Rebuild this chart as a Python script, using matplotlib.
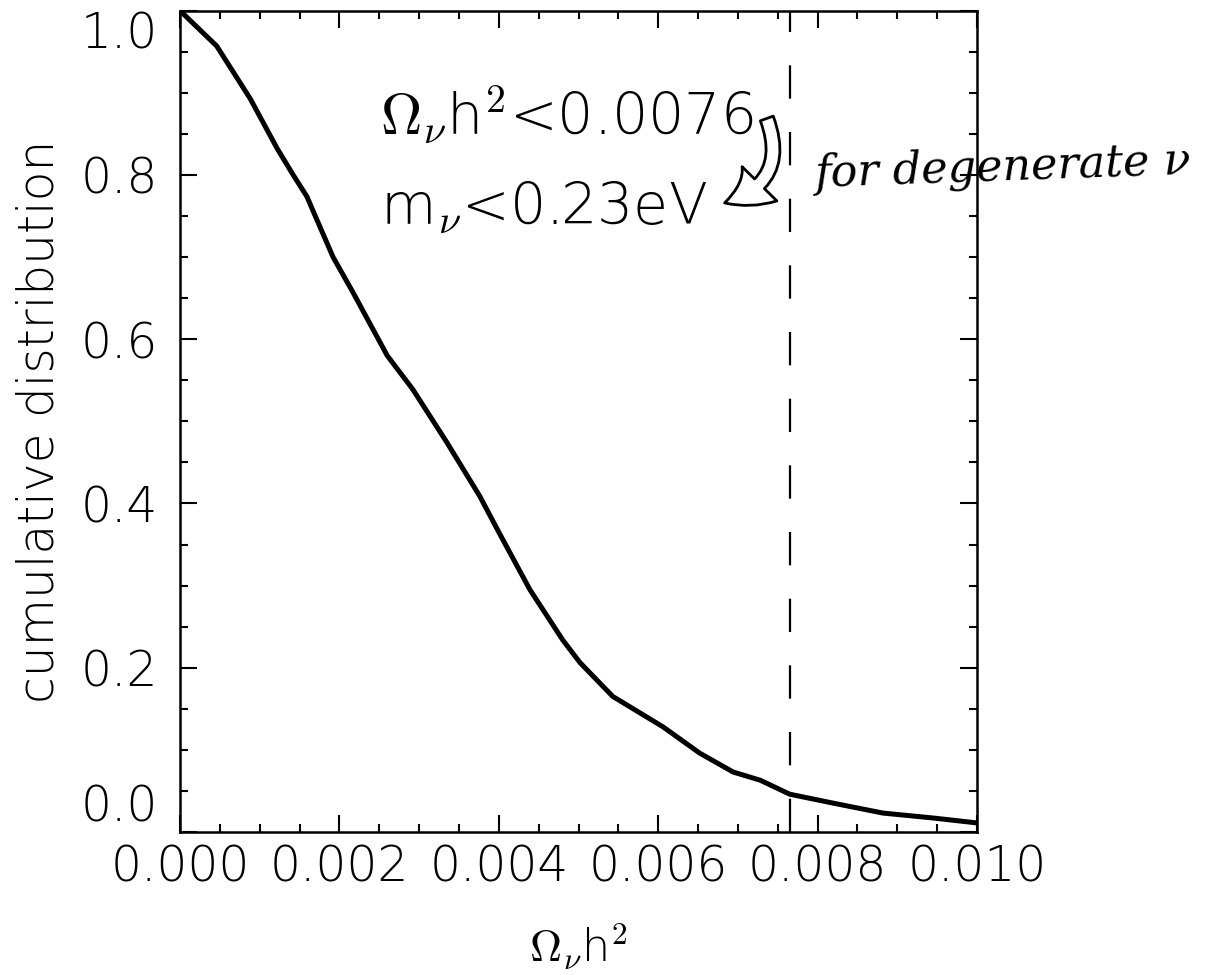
import matplotlib.pyplot as plt
from matplotlib.ticker import MultipleLocator

# Curve
omega = [0.0, 0.00046, 0.00088, 0.00122, 0.00142, 0.00159, 0.00192, 0.00217,
         0.0026, 0.00292, 0.00335, 0.00376, 0.0040, 0.00439, 0.0048, 0.00502,
         0.00543, 0.00606, 0.00652, 0.00694, 0.00728, 0.00765, 0.0082,
         0.00882, 0.00945, 0.0100]
cumul = [1.0, 0.957, 0.893, 0.832, 0.80, 0.774, 0.70, 0.657,
         0.58, 0.539, 0.474, 0.409, 0.365, 0.295, 0.234, 0.206,
         0.165, 0.128, 0.096, 0.073, 0.063, 0.046, 0.035,
         0.023, 0.017, 0.011]
limit = 0.00765

xticks = [0.000, 0.002, 0.004, 0.006, 0.008, 0.010]
xticklabels = ["0.000", "0.002", "0.004", "0.006", "0.008", "0.010"]
yticks = [0.0, 0.2, 0.4, 0.6, 0.8, 1.0]
yticklabels = ["0.0", "0.2", "0.4", "0.6", "0.8", "1.0"]

plt.rcParams['font.family'] = ['DejaVu Sans']
plt.rcParams['font.weight'] = 'light'
plt.rcParams['axes.labelweight'] = 'light'
plt.rcParams['mathtext.fontset'] = 'cm'

fig = plt.figure(figsize=(12.19, 9.75), dpi=100)
ax = fig.add_axes([0.1477, 0.1467, 0.6538, 0.8423])

ax.plot(omega, cumul, color="black", linewidth=3.6)
ax.axvline(limit, color="black", linewidth=1.6, dashes=(15, 15))

ax.set_xlim(0, 0.01)
ax.set_ylim(0, 1.0)
ax.set_xticks(xticks)
ax.set_xticklabels(xticklabels)
ax.set_yticks(yticks)
ax.set_yticklabels(yticklabels)
ax.xaxis.set_minor_locator(MultipleLocator(0.0005))
ax.yaxis.set_minor_locator(MultipleLocator(0.05))

ax.tick_params(which="both", direction="in", top=True, right=True, width=1.5)
ax.tick_params(which="major", length=12, labelsize=35)
ax.tick_params(which="minor", length=6)
ax.tick_params(axis="x", pad=8)
ax.tick_params(axis="y", pad=16)
for s in ax.spines.values():
    s.set_linewidth(1.8)

# end labels sit inside the axis range, like the original
yt = ax.yaxis.get_major_ticks()
yt[0].label1.set_va("bottom")
yt[-1].label1.set_va("top")

ax.set_ylabel("cumulative distribution", fontsize=35, labelpad=12)
ax.set_xlabel(r"$\Omega_\nu$h$^\mathsf{2}$", fontsize=32, labelpad=22)

ax.text(0.00251, 0.85, r"$\Omega_\nu$h$^\mathsf{2}$<0.0076", fontsize=41, ha="left", va="baseline")
ax.text(0.00251, 0.74, r"m$_\nu$<0.23eV", fontsize=41, ha="left", va="baseline")

# handwritten note
ax.annotate("", xy=(0.0068, 0.765), xytext=(0.00735, 0.872),
            arrowprops=dict(arrowstyle="simple,head_length=1.3,head_width=1.6,tail_width=0.45",
                            connectionstyle="arc3,rad=-0.55", mutation_scale=22,
                            facecolor="white", edgecolor="black", linewidth=2))
fig.text(0.668, 0.828, "for degenerate ν", fontsize=32, style="italic",
         family="DejaVu Serif", ha="left", va="center", rotation=2)

fig.savefig("out.png", dpi=100)
